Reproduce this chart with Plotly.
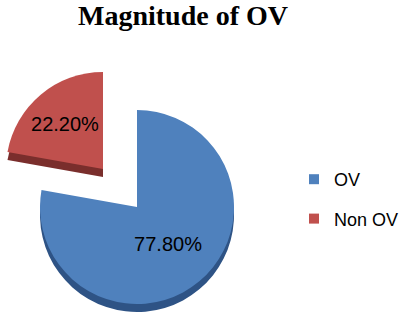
import plotly.graph_objects as go

# ---- data ----
labels = ["OV", "Non OV"]
values = [77.8, 22.2]

# ---- style ----
W, H = 408, 314
face_colors = ["#4F81BD", "#C0504D"]
side_colors = ["#2E5385", "#7A2E2C"]
CLEAR = "rgba(0,0,0,0)"

R = 97                 # pie radius (px)
cx, cy = 137, 207      # pie centre (px from left / top)
depth = 8              # 3D side thickness (px)
off_x, off_y = -34, -38  # exploded slice offset (px)

def dom(center_x, center_y_from_top, h=R):
    yc = H - center_y_from_top
    return dict(x=[max(0, (center_x - h) / W), min(1, (center_x + h) / W)],
                y=[max(0, (yc - h) / H), min(1, (yc + h) / H)])

common = dict(labels=labels, values=values, sort=False, direction="clockwise",
              rotation=0, showlegend=False)
lbl_font = dict(family="Liberation Sans, Arial, sans-serif", size=20, color="#000000")

fig = go.Figure()

# 1. side of the main (OV) slice
fig.add_trace(go.Pie(**common, marker=dict(colors=[side_colors[0], CLEAR], line=dict(width=0)),
                     textinfo="none", hoverinfo="skip", domain=dom(cx, cy + depth)))
# 2. top of the main (OV) slice
fig.add_trace(go.Pie(**common, marker=dict(colors=[face_colors[0], CLEAR], line=dict(width=0)),
                     texttemplate=["%{percent:.2%}", ""], textposition="inside",
                     insidetextorientation="horizontal", textfont=lbl_font,
                     hoverinfo="label+percent", domain=dom(cx, cy)))
# 3. side of the exploded (Non OV) slice
fig.add_trace(go.Pie(**common, marker=dict(colors=[CLEAR, side_colors[1]], line=dict(width=0)),
                     textinfo="none", hoverinfo="skip",
                     domain=dom(cx + off_x, cy + off_y + depth)))
# 4. top of the exploded (Non OV) slice
fig.add_trace(go.Pie(**common, marker=dict(colors=[CLEAR, face_colors[1]], line=dict(width=0)),
                     texttemplate=["", "%{percent:.2%}"], textposition="inside",
                     insidetextorientation="horizontal", textfont=lbl_font,
                     hoverinfo="label+percent", domain=dom(cx + off_x, cy + off_y)))

# legend entries
for lab, col in zip(labels, face_colors):
    fig.add_trace(go.Scatter(x=[None], y=[None], mode="markers", name=lab,
                             legendgroup=lab,
                             marker=dict(symbol="square", size=10, color=col)))

fig.update_layout(
    width=W, height=H,
    margin=dict(l=0, r=0, t=0, b=0),
    paper_bgcolor="white", plot_bgcolor="white",
    xaxis=dict(visible=False), yaxis=dict(visible=False),
    title=dict(
        text="<b>Magnitude of OV</b>",
        font=dict(family="Liberation Serif, Times New Roman, serif", size=28, color="#000000"),
        x=183 / W, xanchor="center", xref="paper",
        y=1 - 15 / H, yanchor="middle", yref="container",
    ),
    legend=dict(
        x=294 / W, xanchor="left",
        y=1 - 161 / H, yanchor="top",
        font=dict(family="Liberation Sans, Arial, sans-serif", size=18, color="#000000"),
        bgcolor="rgba(0,0,0,0)",
        tracegroupgap=13,
        itemwidth=30,
    ),
)

fig.write_html("out.html", config={"displayModeBar": False},
               post_script="document.body.style.margin='0';")
